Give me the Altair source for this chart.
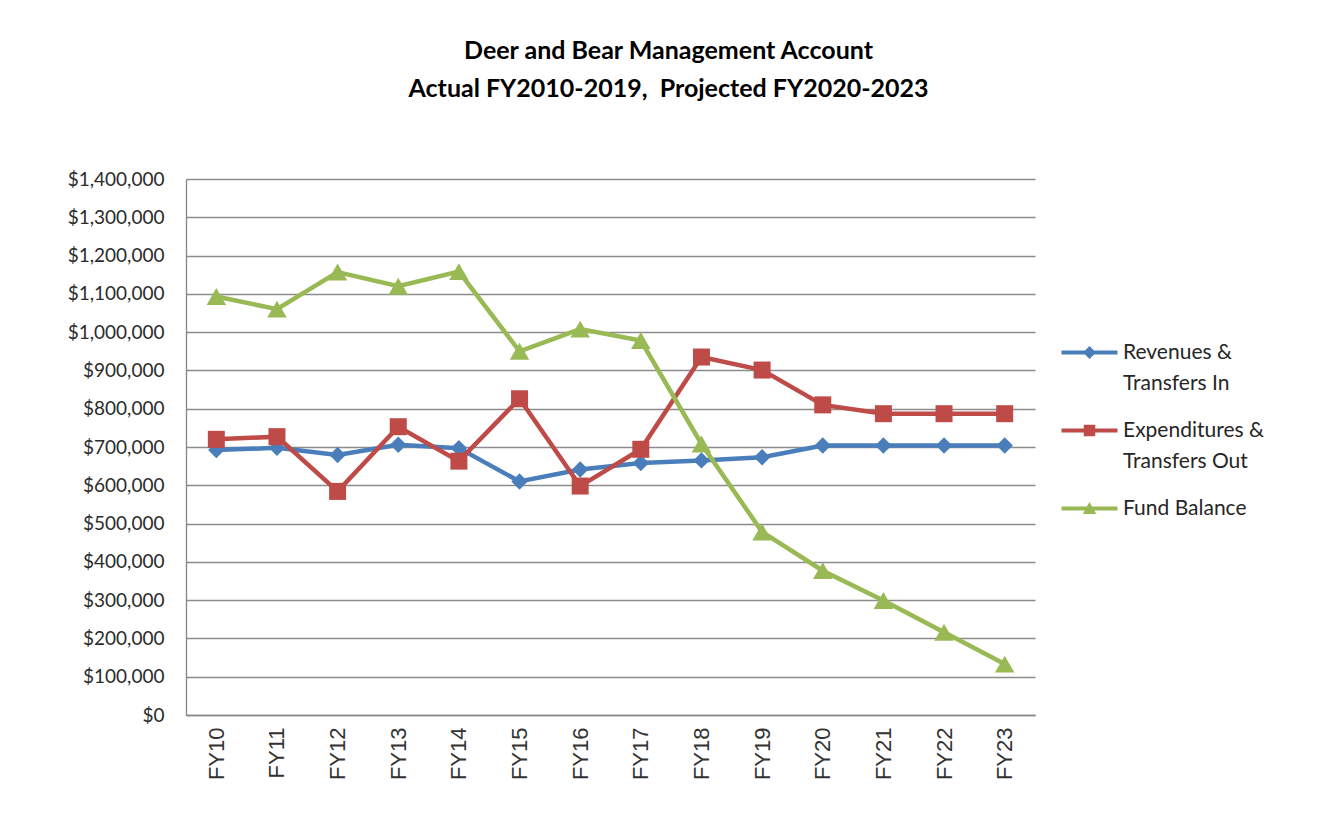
import altair as alt
import pandas as pd

years = ["FY10", "FY11", "FY12", "FY13", "FY14", "FY15", "FY16",
         "FY17", "FY18", "FY19", "FY20", "FY21", "FY22", "FY23"]
revenues = [692000, 698000, 679000, 706000, 697000, 610000, 641000,
            658000, 665000, 673000, 704000, 704000, 704000, 704000]
expenditures = [720000, 727000, 584000, 753000, 663000, 826000, 598000,
                694000, 935000, 901000, 810000, 787000, 787000, 787000]
fund_balance = [1093000, 1060000, 1157000, 1120000, 1158000, 950000, 1008000,
                978000, 708000, 478000, 377000, 299000, 216000, 133000]

series_names = ["Revenues & Transfers In", "Expenditures & Transfers Out", "Fund Balance"]
series_colors = ["#4A7EBB", "#BE4B48", "#98B954"]
series_shapes = ["diamond", "square", "triangle-up"]
series_sizes = [270, 289, 380]

# legend symbols: line segment with marker (custom SVG paths, unit = sqrt(size)/2)
legend_paths = [
    "M-5.6,-0.4 L5.6,-0.4 L5.6,0.4 L-5.6,0.4 Z M0,-1.3 L1.3,0 L0,1.3 L-1.3,0 Z",
    "M-5.6,-0.4 L5.6,-0.4 L5.6,0.4 L-5.6,0.4 Z M-1.15,-1.15 L1.15,-1.15 L1.15,1.15 L-1.15,1.15 Z",
    "M-5.6,-0.4 L5.6,-0.4 L5.6,0.4 L-5.6,0.4 Z M0,-1.3 L1.35,1.1 L-1.35,1.1 Z",
]

rows = []
for name, vals in zip(series_names, [revenues, expenditures, fund_balance]):
    for yr, v in zip(years, vals):
        rows.append({"year": yr, "value": v, "series": name})
df = pd.DataFrame(rows)

color_scale = alt.Scale(domain=series_names, range=series_colors)

x_enc = alt.X("year:N", sort=years, scale=alt.Scale(padding=0.5),
              axis=alt.Axis(title=None, labelAngle=270, labelFont="Liberation Sans",
                            labelFontSize=22, labelColor="#333333", tickSize=0,
                            labelPadding=12, grid=False, domainColor="#868686",
                            domainWidth=1.3))
y_enc = alt.Y("value:Q", scale=alt.Scale(domain=[0, 1400000], nice=False),
              axis=alt.Axis(title=None, values=list(range(0, 1400001, 100000)),
                            format="$,.0f", labelFont="Lato", labelFontSize=19,
                            labelColor="#2b2b2b", tickSize=0, labelPadding=22,
                            grid=True, gridColor="#8C8C8C", gridWidth=1.3,
                            domainColor="#868686", domainWidth=1.3))

base = alt.Chart(df)

layers = []
for name, color in zip(series_names, series_colors):
    layers.append(
        base.transform_filter(alt.datum.series == name)
        .mark_line(strokeWidth=4.5, color=color)
        .encode(x=x_enc, y=y_enc)
    )
for name, color, shape, size in zip(series_names, series_colors, series_shapes, series_sizes):
    layers.append(
        base.transform_filter(alt.datum.series == name)
        .mark_point(shape=shape, size=size, filled=True, opacity=1, color=color)
        .encode(x=x_enc, y=y_enc)
    )

# legend carrier: marks are placed outside the drawing area (clipped); only its legend is seen
legend_layer = base.mark_point(filled=True, clip=True, opacity=1).encode(
    x=alt.value(-5000), y=alt.value(-5000),
    color=alt.Color("series:N", scale=color_scale,
                    legend=alt.Legend(
                        title=None, orient="none", legendX=893, legendY=163,
                        symbolSize=100, symbolOpacity=1, symbolStrokeWidth=0,
                        labelFont="Lato", labelFontSize=21, labelColor="#262626",
                        labelOffset=23, labelLimit=400, rowPadding=25,
                        labelBaseline="middle",
                        labelExpr="datum.label == 'Revenues & Transfers In' ? ['Revenues &', 'Transfers In'] : datum.label == 'Expenditures & Transfers Out' ? ['Expenditures &', 'Transfers Out'] : [datum.label, ' ']",
                    )),
    shape=alt.Shape("series:N", scale=alt.Scale(domain=series_names, range=legend_paths)),
)
layers.append(legend_layer)

chart = alt.layer(*layers).properties(
    width=849, height=536,
    title=alt.TitleParams(
        text=["Deer and Bear Management Account", "Actual FY2010-2019,\u00a0 Projected FY2020-2023"],
        font="Lato", fontSize=25, fontWeight="bold", color="#000000",
        anchor="middle", frame="group", dx=58, offset=68, lineHeight=38,
    ),
    autosize=alt.AutoSizeParams(type="none"),
    padding={"left": 178, "top": 171, "right": 286, "bottom": 110},
).configure(
    style={"guide-label": {"lineHeight": 31}}
).configure_view(stroke=None)

chart.save("out.html", embed_options={"renderer": "svg", "actions": False})
